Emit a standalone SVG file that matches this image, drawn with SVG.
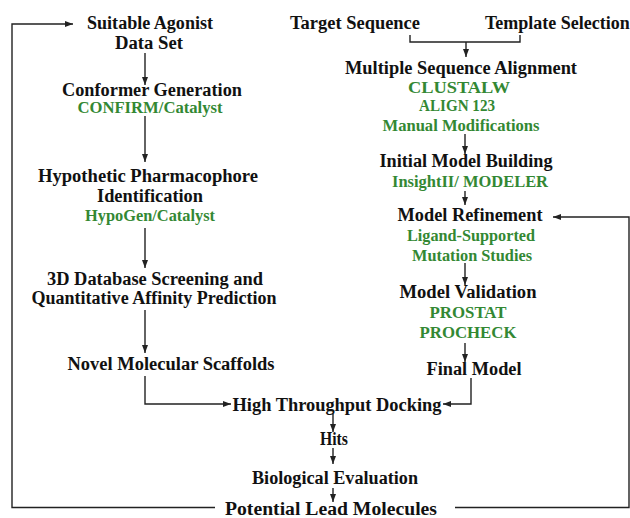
<svg xmlns="http://www.w3.org/2000/svg" width="630" height="518" viewBox="0 0 630 518">
<style>
text{font-family:"Liberation Serif","Times New Roman",serif;font-weight:bold;text-anchor:middle}
.b{font-size:18px;fill:#111}
.g{font-size:16px;fill:#338833}
.c{fill:none;stroke:#222;stroke-width:1.4}
</style>
<defs>
<marker id="ah" markerUnits="userSpaceOnUse" markerWidth="8" markerHeight="8" viewBox="0 0 8 8" refX="8" refY="4" orient="auto">
<path d="M0,1 L8,4 L0,7 Z" fill="#222"/>
</marker>
</defs>
<rect width="630" height="518" fill="#fff"/>
<g id="connectors">
<path class="c" d="M145,53 V85" marker-end="url(#ah)"/>
<path class="c" d="M145,116 V162" marker-end="url(#ah)"/>
<path class="c" d="M145,228 V268" marker-end="url(#ah)"/>
<path class="c" d="M145,310 V353" marker-end="url(#ah)"/>
<path class="c" d="M145,376 V404 H231" marker-end="url(#ah)"/>
<path class="c" d="M410,35 V42 H520 V35"/>
<path class="c" d="M466,42 V57" marker-end="url(#ah)"/>
<path class="c" d="M465,134 V154" marker-end="url(#ah)"/>
<path class="c" d="M465,191 V205" marker-end="url(#ah)"/>
<path class="c" d="M465,263 V285" marker-end="url(#ah)"/>
<path class="c" d="M465,343 V362" marker-end="url(#ah)"/>
<path class="c" d="M471,378 V404 H443" marker-end="url(#ah)"/>
<path class="c" d="M333,414 V432" marker-end="url(#ah)"/>
<path class="c" d="M333,448 V464" marker-end="url(#ah)"/>
<path class="c" d="M333,488 V502" marker-end="url(#ah)"/>
<path class="c" d="M215,507.5 H12 V24 H73" marker-end="url(#ah)"/>
<path class="c" d="M455,507.5 H629 V217 H553" marker-end="url(#ah)"/>
</g>
<g id="suitable-agonist"><text class="b" x="150" y="29" textLength="126" lengthAdjust="spacingAndGlyphs">Suitable Agonist</text><text class="b" x="149" y="49" textLength="68" lengthAdjust="spacingAndGlyphs">Data Set</text></g>
<g id="conformer-generation"><text class="b" x="152" y="96" textLength="180" lengthAdjust="spacingAndGlyphs">Conformer Generation</text><text class="g" x="150" y="113" textLength="145" lengthAdjust="spacingAndGlyphs">CONFIRM/Catalyst</text></g>
<g id="pharmacophore"><text class="b" x="148" y="182" textLength="220" lengthAdjust="spacingAndGlyphs">Hypothetic Pharmacophore</text><text class="b" x="150" y="202" textLength="106" lengthAdjust="spacingAndGlyphs">Identification</text><text class="g" x="150" y="221" textLength="130" lengthAdjust="spacingAndGlyphs">HypoGen/Catalyst</text></g>
<g id="database-screening"><text class="b" x="155" y="285" textLength="216" lengthAdjust="spacingAndGlyphs">3D Database Screening and</text><text class="b" x="154" y="304" textLength="245" lengthAdjust="spacingAndGlyphs">Quantitative Affinity Prediction</text></g>
<g id="novel-scaffolds"><text class="b" x="171" y="370" textLength="207" lengthAdjust="spacingAndGlyphs">Novel Molecular Scaffolds</text></g>
<g id="target-sequence"><text class="b" x="355" y="29" textLength="130" lengthAdjust="spacingAndGlyphs">Target Sequence</text></g>
<g id="template-selection"><text class="b" x="485" y="29" style="text-anchor:start">Template Selection</text></g>
<g id="msa"><text class="b" x="461" y="74" textLength="232" lengthAdjust="spacingAndGlyphs">Multiple Sequence Alignment</text><text class="g" x="459" y="93" textLength="102" lengthAdjust="spacingAndGlyphs">CLUSTALW</text><text class="g" x="457" y="111" textLength="76" lengthAdjust="spacingAndGlyphs">ALIGN 123</text><text class="g" x="461" y="131" textLength="157" lengthAdjust="spacingAndGlyphs">Manual Modifications</text></g>
<g id="initial-model"><text class="b" x="466" y="167" textLength="173" lengthAdjust="spacingAndGlyphs">Initial Model Building</text><text class="g" x="470" y="187" textLength="156" lengthAdjust="spacingAndGlyphs">InsightII/ MODELER</text></g>
<g id="model-refinement"><text class="b" x="470" y="221" textLength="145" lengthAdjust="spacingAndGlyphs">Model Refinement</text><text class="g" x="471" y="241" textLength="128" lengthAdjust="spacingAndGlyphs">Ligand-Supported</text><text class="g" x="472" y="261" textLength="120" lengthAdjust="spacingAndGlyphs">Mutation Studies</text></g>
<g id="model-validation"><text class="b" x="468" y="298" textLength="137" lengthAdjust="spacingAndGlyphs">Model Validation</text><text class="g" x="468" y="318" textLength="77" lengthAdjust="spacingAndGlyphs">PROSTAT</text><text class="g" x="468" y="338" textLength="97" lengthAdjust="spacingAndGlyphs">PROCHECK</text></g>
<g id="final-model"><text class="b" x="474" y="375" textLength="95" lengthAdjust="spacingAndGlyphs">Final Model</text></g>
<g id="htd"><text class="b" x="337" y="411" textLength="209" lengthAdjust="spacingAndGlyphs">High Throughput Docking</text></g>
<g id="hits"><text class="b" x="334" y="445" textLength="28" lengthAdjust="spacingAndGlyphs">Hits</text></g>
<g id="bio-eval"><text class="b" x="335" y="484" textLength="166" lengthAdjust="spacingAndGlyphs">Biological Evaluation</text></g>
<g id="lead-molecules"><text class="b" x="331" y="515" textLength="212" lengthAdjust="spacingAndGlyphs">Potential Lead Molecules</text></g>
</svg>
